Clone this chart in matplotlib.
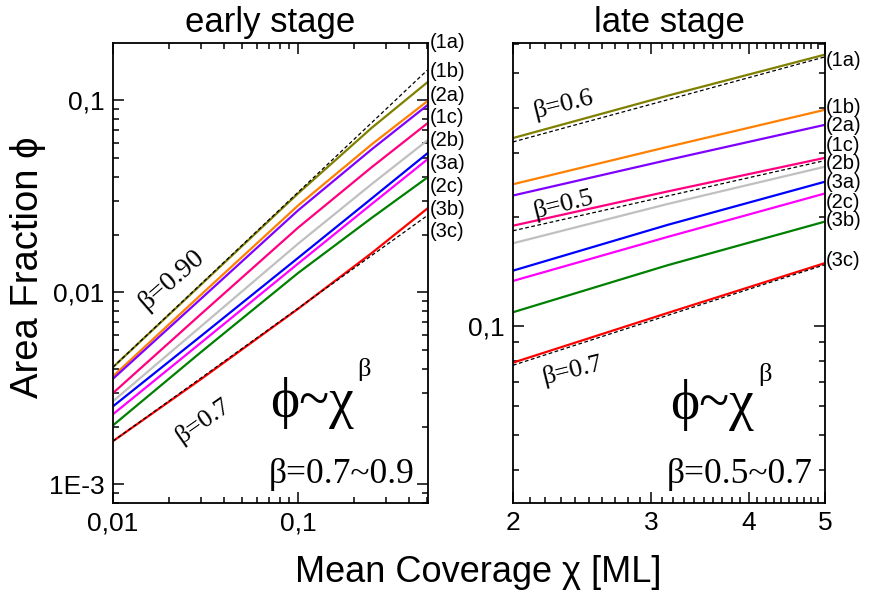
import numpy as np
import matplotlib
matplotlib.use("Agg")
import matplotlib.pyplot as plt
from matplotlib.ticker import FixedLocator, FixedFormatter, LogLocator, NullFormatter

# series names and colours (same order in both panels)
names = ["(1a)", "(1b)", "(2a)", "(1c)", "(2b)", "(3a)", "(2c)", "(3b)", "(3c)"]
colors = ["#808000", "#FF8000", "#8000FF", "#FF0080", "#C0C0C0",
          "#0000FF", "#FF00FF", "#008000", "#FF0000"]

# early stage: area fraction vs coverage
x_early = [0.01, 0.03, 0.1, 0.25, 0.5]
phi_early = [
    [0.00408, 0.0110, 0.0327, 0.0718, 0.124],
    [0.00366, 0.00975, 0.0283, 0.0589, 0.0989],
    [0.00355, 0.00929, 0.0267, 0.0555, 0.0942],
    [0.00299, 0.00773, 0.0217, 0.0448, 0.0758],
    [0.00271, 0.00667, 0.0179, 0.0366, 0.0618],
    [0.00255, 0.00594, 0.0151, 0.0308, 0.0529],
    [0.00232, 0.00548, 0.0141, 0.0288, 0.0492],
    [0.00203, 0.00490, 0.0126, 0.0244, 0.0396],
    [0.00168, 0.00354, 0.0082, 0.0160, 0.0273],
]
# power-law guides (x end points, y end points)
fit_early_x = [0.01, 0.5]
fit_early = [[0.00408, 0.1436], [0.00168, 0.0251]]

# late stage
x_late = [2.0, 3.15, 5.0]
phi_late = [
    [0.330, 0.432, 0.561],
    [0.246, 0.312, 0.395],
    [0.229, 0.287, 0.359],
    [0.189, 0.235, 0.291],
    [0.169, 0.217, 0.275],
    [0.142, 0.190, 0.250],
    [0.133, 0.176, 0.232],
    [0.109, 0.147, 0.194],
    [0.0791, 0.1085, 0.149],
]
fit_late_x = [2.0, 5.0]
fit_late = [[0.322, 0.553], [0.183, 0.286], [0.0778, 0.1475]]

# label positions (axes fraction) for the series names
lab_y_early = [1.00, 0.939, 0.885, 0.839, 0.787, 0.737, 0.689, 0.639, 0.591]
lab_y_late = [0.963, 0.859, 0.820, 0.778, 0.737, 0.696, 0.654, 0.615, 0.528]

sans = ["Liberation Sans", "DejaVu Sans"]
serif = ["Liberation Serif", "DejaVu Serif"]
plt.rcParams["font.family"] = sans

fig = plt.figure(figsize=(8.69, 5.99), dpi=100)
ax1 = fig.add_axes([113 / 869, 1 - 503 / 599, 315 / 869, 460 / 599])
ax2 = fig.add_axes([513 / 869, 1 - 503 / 599, 312 / 869, 460 / 599])

for ys, c in zip(phi_early, colors):
    ax1.plot(x_early, ys, color=c, lw=1.6)
for ys in fit_early:
    ax1.plot(fit_early_x, ys, color="black", lw=0.9, ls=(0, (3, 2)))
for ys, c in zip(phi_late, colors):
    ax2.plot(x_late, ys, color=c, lw=1.6)
for ys in fit_late:
    ax2.plot(fit_late_x, ys, color="black", lw=0.9, ls=(0, (3, 2)))

for ax in (ax1, ax2):
    ax.set_xscale("log")
    ax.set_yscale("log")
    for s in ax.spines.values():
        s.set_linewidth(1.3)
    ax.tick_params(which="both", direction="in", top=True, right=True,
                   labelsize=19, width=1.1)
    ax.tick_params(which="major", length=8, pad=6)
    ax.tick_params(which="minor", length=4)

ax1.set_xlim(0.01, 0.505)
ax1.set_ylim(0.0008, 0.199)
ax1.xaxis.set_major_locator(FixedLocator([0.01, 0.1]))
ax1.xaxis.set_major_formatter(FixedFormatter(["0,01", "0,1"]))
ax1.xaxis.set_minor_locator(LogLocator(base=10, subs=np.arange(2, 10)))
ax1.xaxis.set_minor_formatter(NullFormatter())
ax1.yaxis.set_major_locator(FixedLocator([0.001, 0.01, 0.1]))
ax1.yaxis.set_major_formatter(FixedFormatter(["1E-3", "0,01", "0,1"]))
ax1.yaxis.set_minor_locator(LogLocator(base=10, subs=np.arange(2, 10)))
ax1.yaxis.set_minor_formatter(NullFormatter())

ax2.set_xlim(2, 5)
ax2.set_ylim(0.0324, 0.604)
ax2.xaxis.set_major_locator(FixedLocator([2, 3, 4, 5]))
ax2.xaxis.set_major_formatter(FixedFormatter(["2", "3", "4", "5"]))
ax2.xaxis.set_minor_locator(FixedLocator(np.arange(2.1, 5.0, 0.1)))
ax2.xaxis.set_minor_formatter(NullFormatter())
ax2.yaxis.set_major_locator(FixedLocator([0.1]))
ax2.yaxis.set_major_formatter(FixedFormatter(["0,1"]))
ax2.yaxis.set_minor_locator(LogLocator(base=10, subs=np.arange(2, 10)))
ax2.yaxis.set_minor_formatter(NullFormatter())

ax1.set_title("early stage", fontsize=25, pad=8)
ax2.set_title("late stage", fontsize=25, pad=8)

for ax, ys in ((ax1, lab_y_early), (ax2, lab_y_late)):
    for n, y in zip(names, ys):
        ax.text(1.004, y, n, transform=ax.transAxes, fontsize=14.5,
                ha="left", va="center", clip_on=False)

# annotations (serif, like the original)
def note(ax, x, y, s, size, rot=0):
    ax.text(x, y, s, transform=ax.transAxes, fontsize=size, family=serif,
            ha="center", va="center", rotation=rot, rotation_mode="anchor")

note(ax1, 0.187, 0.485, "β=0.90", 20, 41)
note(ax1, 0.286, 0.178, "β=0.7", 19, 35)
note(ax1, 0.632, 0.217, "ϕ~χ", 40)
note(ax1, 0.797, 0.290, "β", 19)
note(ax1, 0.727, 0.063, "β=0.7~0.9", 25.5)

note(ax2, 0.160, 0.867, "β=0.6", 19, 14)
note(ax2, 0.160, 0.650, "β=0.5", 19, 14)
note(ax2, 0.189, 0.289, "β=0.7", 19, 14)
note(ax2, 0.638, 0.213, "ϕ~χ", 40)
note(ax2, 0.807, 0.280, "β", 19)
note(ax2, 0.728, 0.063, "β=0.5~0.7", 25.5)

fig.text(28 / 869, 1 - 267 / 599, "Area Fraction ϕ", rotation=90,
         fontsize=27.5, ha="center", va="center")
fig.text(478 / 869, 1 - 573 / 599, "Mean Coverage χ [ML]",
         fontsize=26, ha="center", va="center")

fig.savefig("out.png", dpi=100)
